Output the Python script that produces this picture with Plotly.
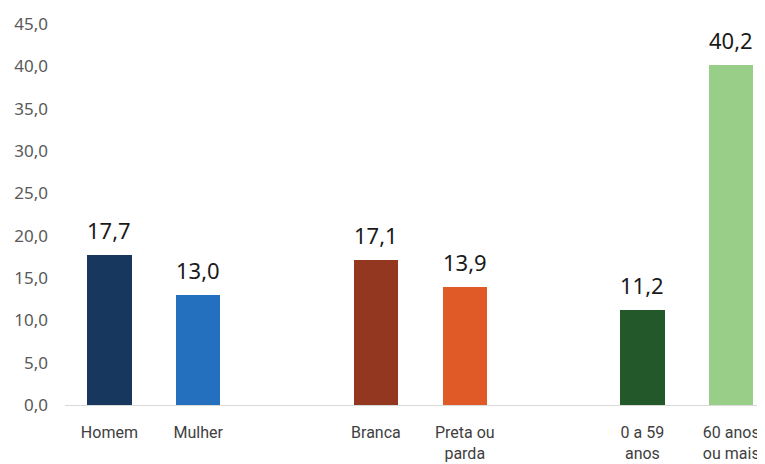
import plotly.graph_objects as go

categories = ["Homem", "Mulher", "Branca", "Preta ou<br>parda", "0 a 59<br>anos", "60 anos<br>ou mais"]
groups = [0, 0, 1, 1, 2, 2]
values = [17.7, 13.0, 17.1, 13.9, 11.2, 40.2]
colors = ["#17375E", "#2470BE", "#943720", "#E05A27", "#22582A", "#98CE88"]
y_ticks = [0, 5, 10, 15, 20, 25, 30, 35, 40, 45]

# positions: one empty slot between groups
xpos = [i + g for i, g in enumerate(groups)]

fig = go.Figure()
fig.add_trace(go.Bar(
    x=xpos, y=values, marker=dict(color=colors, line=dict(width=0)),
    width=0.5, hoverinfo="skip",
))

for x, v in zip(xpos, values):
    fig.add_annotation(
        x=x, y=v, text=f"{v:.1f}".replace(".", ","), showarrow=False,
        yanchor="bottom", yshift=8,
        font=dict(family="Noto Sans", size=22, color="#1a1a1a"),
    )

# page body has an 8px margin, so the figure is 8px smaller and offset
fig.update_layout(
    width=757, height=456,
    margin=dict(l=57, r=0, t=16, b=59),
    plot_bgcolor="white", paper_bgcolor="white",
    separators=",.",
    showlegend=False,
    bargap=0,
    xaxis=dict(
        range=[-0.5, 7.38], automargin=False,
        tickmode="array", tickvals=xpos, ticktext=categories,
        showgrid=False, zeroline=False,
        showline=True, linecolor="#D9D9D9", linewidth=1,
        ticks="", ticklabelstandoff=13,
        tickfont=dict(family="Roboto", size=16, color="#404040"),
    ),
    yaxis=dict(
        range=[0, 45], tickvals=y_ticks, tickformat=".1f", automargin=False,
        showgrid=False, zeroline=False, showline=False,
        ticks="", ticklabelstandoff=16,
        tickfont=dict(family="Noto Sans", size=17, color="#595959"),
    ),
)

fig.write_html("out.html")
